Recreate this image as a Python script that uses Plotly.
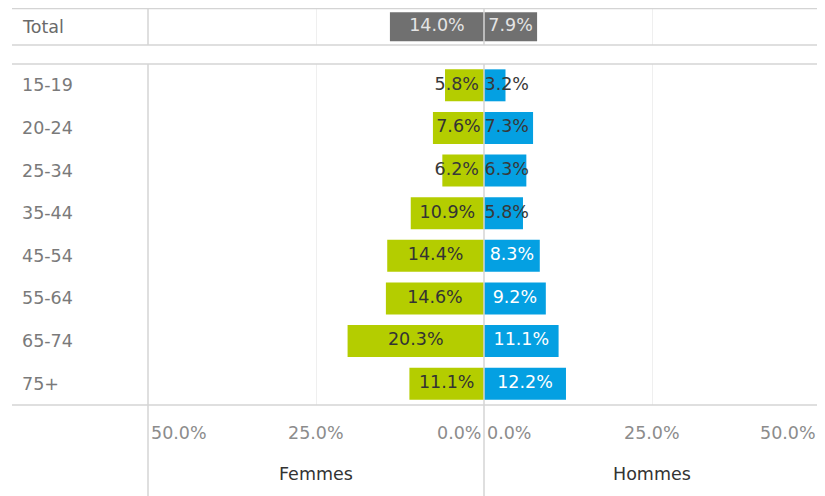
import plotly.graph_objects as go

# ---------------- data ----------------
age_groups = ["15-19", "20-24", "25-34", "35-44", "45-54", "55-64", "65-74", "75+"]
femmes = [5.8, 7.6, 6.2, 10.9, 14.4, 14.6, 20.3, 11.1]
hommes = [3.2, 7.3, 6.3, 5.8, 8.3, 9.2, 11.1, 12.2]
total_label = ["Total"]
total_femmes = [14.0]
total_hommes = [7.9]
tick_vals = [50, 25, 0]
tick_text = ["50.0%", "25.0%", "0.0%"]
side_titles = ["Femmes", "Hommes"]

# ---------------- styling ----------------
OFF = 8                      # page body margin
W, H = 825 - OFF, 496 - OFF  # figure size
FONT = "DejaVu Sans"
GREEN = "#b4cd00"
BLUE = "#04a0e2"
GREY = "#707070"
LINE = "#d4d4d4"
GRID = "#efefef"
X0, XC, X1 = 148, 484, 820          # left edge, centre, right edge (screen px)
PX_PER_PCT = (XC - X0) / 50.0
FS = 17.5


def px(x):
    return (x - OFF) / W


def py(y):
    return 1 - (y - OFF) / H


def fmt(v):
    return f"{v:.1f}%"


def fits(v):
    return v * PX_PER_PCT >= 11.5 * len(fmt(v)) + 4


fig = go.Figure()

# bars
fig.add_trace(go.Bar(y=total_label, x=total_femmes, orientation="h", marker_color=GREY,
                     marker_line_width=0, width=0.79, xaxis="x", yaxis="y", hoverinfo="skip"))
fig.add_trace(go.Bar(y=total_label, x=total_hommes, orientation="h", marker_color=GREY,
                     marker_line_width=0, width=0.79, xaxis="x2", yaxis="y2", hoverinfo="skip"))
fig.add_trace(go.Bar(y=age_groups, x=femmes, orientation="h", marker_color=GREEN,
                     marker_line_width=0, width=0.75, xaxis="x3", yaxis="y3", hoverinfo="skip"))
fig.add_trace(go.Bar(y=age_groups, x=hommes, orientation="h", marker_color=BLUE,
                     marker_line_width=0, width=0.75, xaxis="x4", yaxis="y4", hoverinfo="skip"))


def add_labels(cats, vals, xa, ya, side, fit_color, nofit_color):
    groups = {}
    for c, v in zip(cats, vals):
        if fits(v):
            key = ("middle center", fit_color)
            xpos = v / 2
        else:
            key = ("middle left" if side == "f" else "middle right", nofit_color)
            xpos = (5 if side == "f" else 0.5) / PX_PER_PCT
        groups.setdefault(key, ([], [], []))
        groups[key][0].append(xpos)
        groups[key][1].append(c)
        groups[key][2].append(fmt(v))
    for (pos, col), (xs, ys, ts) in groups.items():
        fig.add_trace(go.Scatter(x=xs, y=ys, text=ts, mode="text", textposition=pos,
                                 textfont=dict(family=FONT, size=FS, color=col),
                                 xaxis=xa, yaxis=ya, hoverinfo="skip", cliponaxis=False))


add_labels(total_label, total_femmes, "x", "y", "f", "#e4e4e4", "#e4e4e4")
add_labels(total_label, total_hommes, "x2", "y2", "h", "#e4e4e4", "#e4e4e4")
add_labels(age_groups, femmes, "x3", "y3", "f", "#333333", "#383838")
add_labels(age_groups, hommes, "x4", "y4", "h", "#ffffff", "#383838")

# axes
left_dom = [px(X0), px(XC)]
right_dom = [px(XC), px(X1)]
top_dom = [py(45), py(8.5)]
bot_dom = [py(405), py(64)]

xcommon = dict(tickvals=[25], showticklabels=False, showgrid=True, gridcolor=GRID,
               gridwidth=1, zeroline=False, showline=False, ticks="", fixedrange=True)
ycommon = dict(showticklabels=False, showgrid=False, zeroline=False, showline=False,
               ticks="", fixedrange=True)

fig.update_layout(
    xaxis=dict(domain=left_dom, range=[50, 0], anchor="y", **xcommon),
    xaxis2=dict(domain=right_dom, range=[0, 50], anchor="y2", **xcommon),
    xaxis3=dict(domain=left_dom, range=[50, 0], anchor="y3", **xcommon),
    xaxis4=dict(domain=right_dom, range=[0, 50], anchor="y4", **xcommon),
    yaxis=dict(domain=top_dom, range=[-0.5, 0.5], anchor="x", type="category", **ycommon),
    yaxis2=dict(domain=top_dom, range=[-0.5, 0.5], anchor="x2", type="category", **ycommon),
    yaxis3=dict(domain=bot_dom, range=[7.5, -0.5], anchor="x3", type="category",
                categoryarray=age_groups, **ycommon),
    yaxis4=dict(domain=bot_dom, range=[7.5, -0.5], anchor="x4", type="category",
                categoryarray=age_groups, **ycommon),
)

# borders / lines
shapes = []


def hline(y, xa=12, xb=X1 + 1):
    shapes.append(dict(type="line", xref="paper", yref="paper", x0=px(xa), x1=px(xb),
                       y0=py(y), y1=py(y), line=dict(color=LINE, width=1.5), layer="above"))


def vline(x, ya, yb, color=LINE):
    shapes.append(dict(type="line", xref="paper", yref="paper", x0=px(x), x1=px(x),
                       y0=py(ya), y1=py(yb), line=dict(color=color, width=1.5), layer="above"))


hline(8.5)
hline(45)
hline(64)
hline(405)
vline(X0, 8.5, 45)
vline(X0, 64, 496)
vline(XC, 8.5, 45)
vline(XC, 64, 496)
vline(X1, 8.5, 45)
vline(X1, 64, 405)

annotations = []
# row labels
annotations.append(dict(text=total_label[0], xref="paper", yref="y", x=px(20), y=0,
                        xanchor="left", yanchor="middle", showarrow=False,
                        font=dict(family=FONT, size=FS, color="#6a6a6a")))
for g in age_groups:
    annotations.append(dict(text=g, xref="paper", yref="y3", x=px(20), y=g,
                            xanchor="left", yanchor="middle", showarrow=False,
                            font=dict(family=FONT, size=FS, color="#7a7a7a")))

# tick labels
anchors_left = {50: "left", 25: "center", 0: "right"}
anchors_right = {50: "right", 25: "center", 0: "left"}
for v, t in zip(tick_vals, tick_text):
    annotations.append(dict(text=t, xref="x3", yref="paper", x=v, y=py(433),
                            xanchor=anchors_left[v], yanchor="middle", showarrow=False,
                            xshift=1 if v == 50 else (-1 if v == 0 else 0),
                            font=dict(family=FONT, size=FS, color="#8c8c8c")))
    annotations.append(dict(text=t, xref="x4", yref="paper", x=v, y=py(433),
                            xanchor=anchors_right[v], yanchor="middle", showarrow=False,
                            xshift=-2 if v == 50 else (1 if v == 0 else 0),
                            font=dict(family=FONT, size=FS, color="#8c8c8c")))

# side titles
annotations.append(dict(text=side_titles[0], xref="x3", yref="paper", x=25, y=py(474),
                        xanchor="center", yanchor="middle", showarrow=False,
                        font=dict(family=FONT, size=FS, color="#333333")))
annotations.append(dict(text=side_titles[1], xref="x4", yref="paper", x=25, y=py(474),
                        xanchor="center", yanchor="middle", showarrow=False,
                        font=dict(family=FONT, size=FS, color="#333333")))

fig.update_layout(
    width=W, height=H,
    margin=dict(l=0, r=0, t=0, b=0),
    paper_bgcolor="white", plot_bgcolor="white",
    showlegend=False, barmode="overlay",
    shapes=shapes, annotations=annotations,
    font=dict(family=FONT),
)

fig.write_html("out.html", config={"displayModeBar": False})
